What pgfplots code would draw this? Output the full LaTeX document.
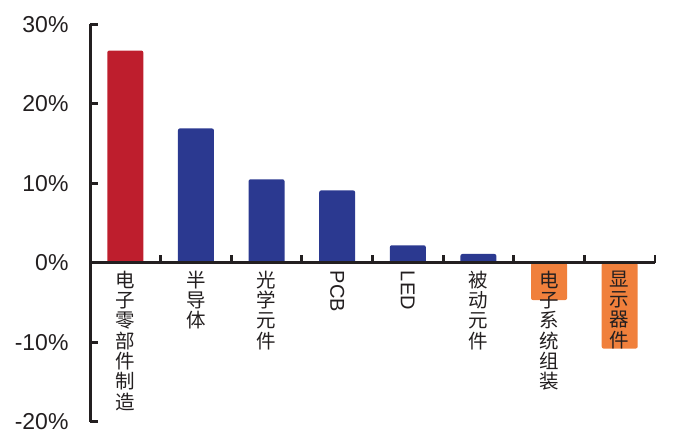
\documentclass[border=0pt]{standalone}
\usepackage{fontspec}
\setmainfont{Liberation Sans}
\newfontfamily\cjk{Noto Sans CJK SC}
\usepackage{graphicx}
\usepackage{pgfplots}
\pgfplotsset{compat=1.18}
\definecolor{barred}{RGB}{190,30,45}
\definecolor{barnavy}{RGB}{43,57,144}
\definecolor{barorange}{RGB}{240,128,60}
\definecolor{axiscol}{RGB}{35,31,32}
\begin{document}
\begin{tikzpicture}
\path[use as bounding box] (0,0) rectangle (676pt,442pt);
\begin{axis}[
    at={(90pt,20.3pt)}, anchor=south west,
    scale only axis, width=565pt, height=397.4pt,
    xmin=-0.5, xmax=7.5, ymin=-20, ymax=30,
    enlargelimits=false,
    axis y line=left, axis x line=middle,
    hide obscured x ticks=false, hide obscured y ticks=false,
    axis line style={-, line width=3pt, color=axiscol},
    axis on top,
    ybar, bar width=36pt, bar shift=0pt,
    tick align=inside,
    major tick length=8pt, minor tick length=8pt,
    tick style={line width=2.8pt, color=axiscol},
    major x tick style={draw=none},
    xtick={0,...,7},
    minor xtick={0.5,1.5,...,7.5},
    xticklabels={{电\\子\\零\\部\\件\\制\\造},{半\\导\\体},{光\\学\\元\\件},
        {\rotatebox{-90}{\rmfamily\fontsize{20}{20}\selectfont PCB}},
        {\rotatebox{-90}{\rmfamily\fontsize{20}{20}\selectfont LED}},
        {被\\动\\元\\件},{电\\子\\系\\统\\组\\装},{显\\示\\器\\件}},
    xticklabel style={font=\cjk\fontsize{19.5}{20.3}\selectfont, align=center,
        anchor=north, inner sep=0pt, yshift=-8pt, text=axiscol},
    ytick={-20,-10,0,10,20,30},
    yticklabels={-20\%,-10\%,0\%,10\%,20\%,30\%},
    yticklabel style={font=\fontsize{23}{23}\selectfont, anchor=east,
        xshift=-18pt, text=axiscol},
]
\addplot[fill=barred, draw=none, rounded corners=2pt] coordinates {(0,26.7)};
\addplot[fill=barnavy, draw=none, rounded corners=2pt] coordinates {
    (1,16.9) (2,10.5) (3,9.1) (4,2.2) (5,1.1)};
\addplot[fill=barorange, draw=none, rounded corners=2pt] coordinates {
    (6,-4.7) (7,-10.8)};
\end{axis}
\end{tikzpicture}
\end{document}
